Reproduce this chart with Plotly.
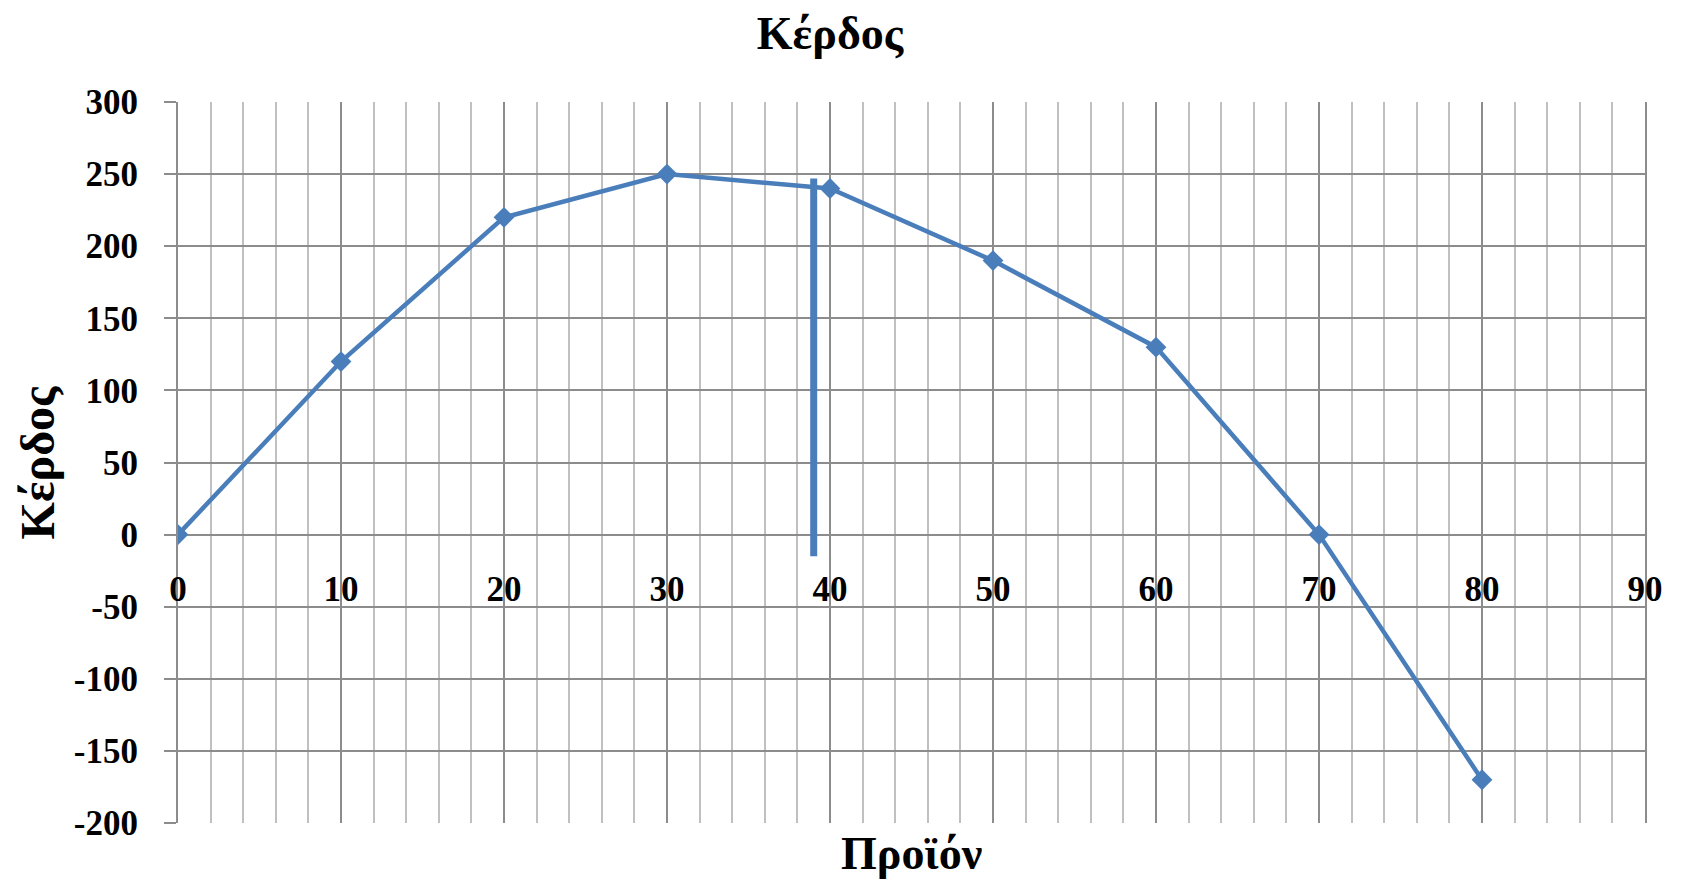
import plotly.graph_objects as go

# Data
product = [0, 10, 20, 30, 40, 50, 60, 70, 80]
profit = [0, 120, 220, 250, 240, 190, 130, 0, -170]
x_ticks = [0, 10, 20, 30, 40, 50, 60, 70, 80, 90]
y_ticks = [-200, -150, -100, -50, 0, 50, 100, 150, 200, 250, 300]
marker_line_x = [39, 39]
marker_line_y = [247, -15]

chart_title = "Κέρδος"
x_title = "Προϊόν"
y_title = "Κέρδος"

blue = "#4a7ebb"
major = "#8c8c8c"
minor = "#c0c0c0"
font_family = "Liberation Serif"

fig = go.Figure()
fig.add_trace(go.Scatter(
    x=product, y=profit, mode="lines+markers",
    line=dict(color=blue, width=4.5),
    marker=dict(symbol="diamond", size=16, color=blue),
    showlegend=False, hoverinfo="skip",
))
fig.add_trace(go.Scatter(
    x=marker_line_x, y=marker_line_y, mode="lines",
    line=dict(color=blue, width=7),
    showlegend=False, hoverinfo="skip",
))

fig.update_layout(
    width=1666, height=873,
    margin=dict(l=170, r=29, t=94, b=58),
    paper_bgcolor="white", plot_bgcolor="white",
    font=dict(family=font_family, color="black"),
    title=dict(text="<b>" + chart_title + "</b>", x=0.4934, xanchor="center",
               y=0.99, yanchor="top",
               font=dict(size=46, family=font_family, color="black")),
    annotations=[
        dict(text="<b>" + x_title + "</b>", xref="paper", yref="paper",
             x=0.5, y=-0.042, xanchor="center", yanchor="middle", showarrow=False,
             font=dict(size=46, family=font_family, color="black")),
        dict(text="<b>" + y_title + "</b>", xref="paper", yref="paper",
             x=-0.0955, xanchor="center", y=0.5, yanchor="middle", showarrow=False,
             textangle=-90,
             font=dict(size=48, family=font_family, color="black")),
    ],
)

fig.update_xaxes(
    range=[0, 90], tickmode="array", tickvals=x_ticks,
    ticktext=[str(v) for v in x_ticks],
    anchor="free", position=0.4,
    showgrid=True, gridcolor=major, gridwidth=2,
    minor=dict(dtick=2, tick0=0, showgrid=True, gridcolor=minor, gridwidth=1.5),
    zeroline=False, showline=False, ticks="",
    ticklabelstandoff=30,
    tickfont=dict(size=35, family=font_family, color="black", weight="bold"),
)
fig.update_yaxes(
    range=[-200, 300], tickmode="array", tickvals=y_ticks,
    ticktext=[str(v) for v in y_ticks],
    showgrid=True, gridcolor=major, gridwidth=2,
    zeroline=True, zerolinecolor=major, zerolinewidth=2,
    showline=True, linecolor=major, linewidth=2, mirror=True,
    ticks="outside", ticklen=12, tickwidth=2, tickcolor=major,
    ticklabelstandoff=19,
    tickfont=dict(size=35, family=font_family, color="black", weight="bold"),
)

fig.write_html("out.html")
